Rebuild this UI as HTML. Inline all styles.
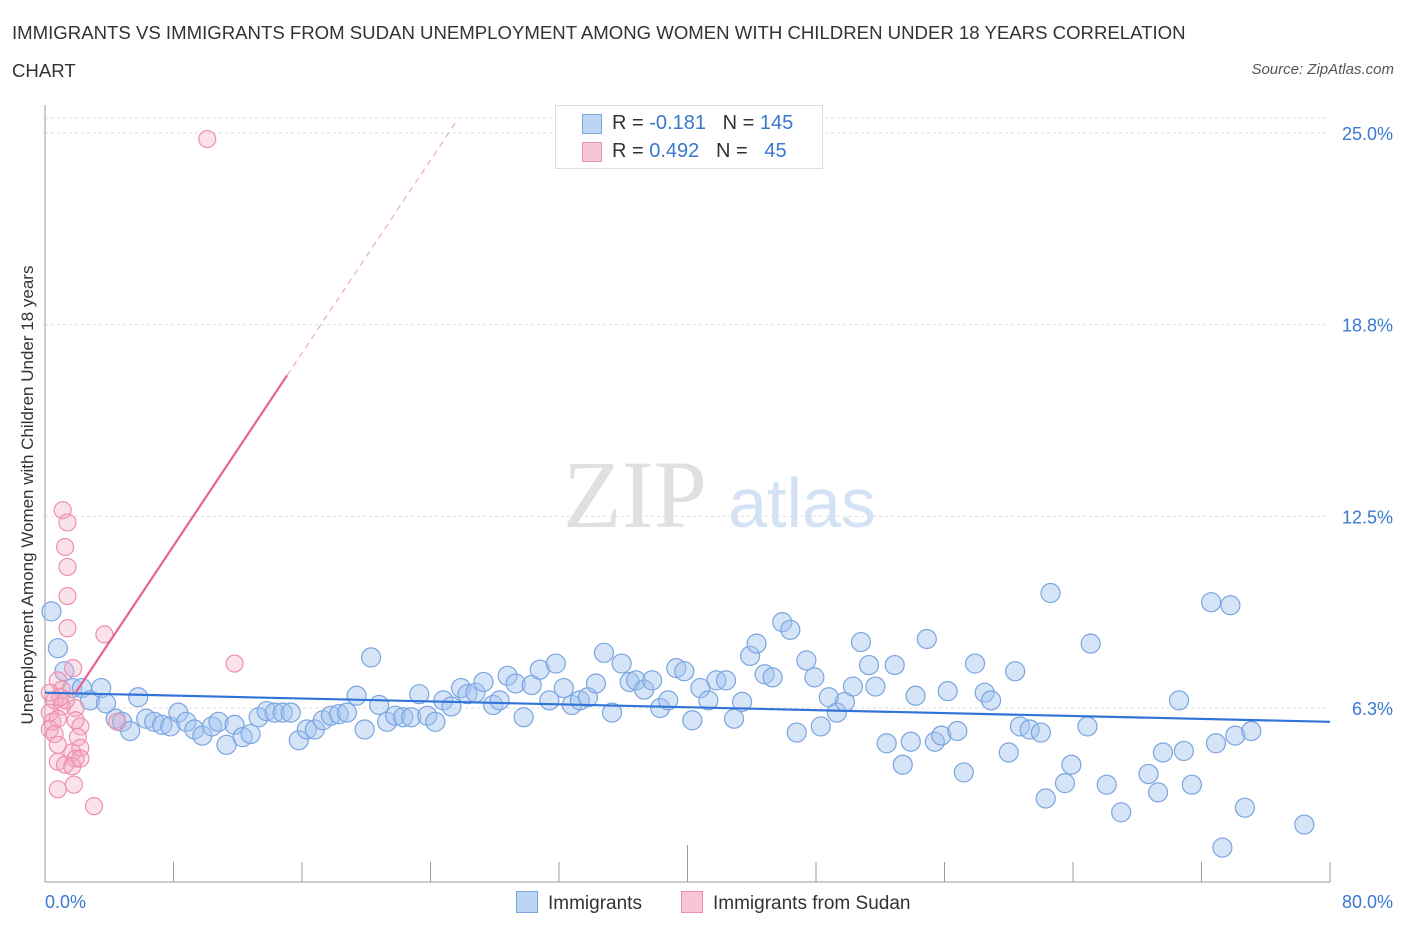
<!DOCTYPE html>
<html><head><meta charset="utf-8"><style>
body{margin:0;background:#fff;font-family:"Liberation Sans",sans-serif;}
#wrap{position:relative;width:1406px;height:930px;overflow:hidden;}
.t{position:absolute;white-space:nowrap;}
</style></head><body>
<div id="wrap">
<div class="t" style="left:12px;top:14px;font-size:18.6px;color:#333;line-height:38px;width:1200px;white-space:normal">IMMIGRANTS VS IMMIGRANTS FROM SUDAN UNEMPLOYMENT AMONG WOMEN WITH CHILDREN UNDER 18 YEARS CORRELATION CHART</div>
<div class="t" style="right:12px;top:61px;font-size:15px;color:#555;font-style:italic">Source: ZipAtlas.com</div>
<svg id="svg" width="1406" height="930" style="position:absolute;left:0;top:0">
<text x="635" y="527" font-family="Liberation Serif,serif" font-size="96" fill="#e0e0e0" text-anchor="middle">ZIP</text>
<text x="802" y="527" font-family="Liberation Sans,sans-serif" font-size="70" fill="#d3e2f4" text-anchor="middle">atlas</text>
<g id="grid"></g><g id="axes"></g><g id="pts"></g><g id="trend"></g>
<text x="33" y="495" transform="rotate(-90 33 495)" font-size="17" fill="#333" text-anchor="middle">Unemployment Among Women with Children Under 18 years</text>
</svg>
<div style="position:absolute;left:555px;top:105px;width:266px;height:62px;border:1px solid #ddd;background:#fff;font-size:20px;">
 <div style="position:absolute;left:26px;top:8px;width:18px;height:18px;background:#bcd5f5;border:1px solid #7aa5e0"></div>
 <div class="t" style="left:56px;top:6px;color:#333">R = <span style="color:#3a78d0">-0.181</span>&nbsp;&nbsp;&nbsp;N = <span style="color:#3a78d0">145</span></div>
 <div style="position:absolute;left:26px;top:36px;width:18px;height:18px;background:#f8c5d5;border:1px solid #ee8fb0"></div>
 <div class="t" style="left:56px;top:34px;color:#333">R = <span style="color:#3a78d0">0.492</span>&nbsp;&nbsp;&nbsp;N = &nbsp;&nbsp;<span style="color:#3a78d0">45</span></div>
</div>
<div style="position:absolute;left:516px;top:891px;font-size:19px;color:#333"><span style="display:inline-block;width:20px;height:20px;background:#bcd5f5;border:1px solid #7aa5e0;vertical-align:-4px;margin-right:10px"></span>Immigrants</div>
<div style="position:absolute;left:681px;top:891px;font-size:19px;color:#333"><span style="display:inline-block;width:20px;height:20px;background:#f8c5d5;border:1px solid #ee8fb0;vertical-align:-4px;margin-right:10px"></span>Immigrants from Sudan</div>
</div>
<script>
const yTicks=[6.25,12.5,18.75,25];
const yTickLabels=["6.3%","12.5%","18.8%","25.0%"];
const xTickLabels=["0.0%","80.0%"];
const blueX=[0.4,0.8,1.2,1.7,2.3,2.8,3.5,3.8,4.4,4.8,5.3,5.8,6.3,6.8,7.3,7.8,8.3,8.8,9.3,9.8,10.4,10.8,11.3,11.8,12.3,12.8,13.3,13.8,14.3,14.8,15.3,15.8,16.3,16.8,17.3,17.8,18.3,18.8,19.4,19.9,20.3,20.8,21.3,21.8,22.3,22.8,23.3,23.8,24.3,24.8,25.3,25.9,26.3,26.8,27.3,27.9,28.3,28.8,29.3,29.8,30.3,30.8,31.4,31.8,32.3,32.8,33.3,33.8,34.3,34.8,35.3,35.9,36.4,36.8,37.3,37.8,38.3,38.8,39.3,39.8,40.3,40.8,41.3,41.8,42.4,42.9,43.4,43.9,44.3,44.8,45.3,45.9,46.4,46.8,47.4,47.9,48.3,48.8,49.3,49.8,50.3,50.8,51.3,51.7,52.4,52.9,53.4,53.9,54.2,54.9,55.4,55.8,56.2,56.8,57.2,57.9,58.5,58.9,60.0,60.4,60.7,61.3,62.0,62.3,62.6,63.5,63.9,64.9,65.1,66.1,67.0,68.7,69.3,69.6,70.6,70.9,71.4,72.6,72.9,73.3,73.8,74.1,74.7,75.1,78.4];
const blueY=[9.4,8.2,7.45,6.9,6.9,6.5,6.9,6.4,5.9,5.8,5.5,6.6,5.9,5.8,5.7,5.65,6.1,5.8,5.55,5.35,5.65,5.8,5.05,5.7,5.3,5.4,5.95,6.15,6.1,6.1,6.1,5.2,5.55,5.55,5.85,6.0,6.05,6.1,6.65,5.55,7.9,6.35,5.8,6.0,5.95,5.95,6.7,6.0,5.8,6.5,6.3,6.9,6.7,6.75,7.1,6.35,6.5,7.3,7.05,5.95,7.0,7.5,6.5,7.7,6.9,6.35,6.5,6.6,7.05,8.05,6.1,7.7,7.1,7.15,6.85,7.15,6.25,6.5,7.55,7.45,5.85,6.9,6.5,7.15,7.15,5.9,6.45,7.95,8.35,7.35,7.25,9.05,8.8,5.45,7.8,7.25,5.65,6.6,6.1,6.45,6.95,8.4,7.65,6.95,5.1,7.65,4.4,5.15,6.65,8.5,5.15,5.35,6.8,5.5,4.15,7.7,6.75,6.5,4.8,7.45,5.65,5.55,5.45,3.3,10.0,3.8,4.4,5.65,8.35,3.75,2.85,4.1,3.5,4.8,6.5,4.85,3.75,9.7,5.1,1.7,9.6,5.35,3.0,5.5,2.45];
const pinkX=[10.1,1.1,1.4,1.25,1.4,1.4,1.4,3.7,11.8,1.75,0.8,1.05,0.3,0.6,1.05,0.3,1.9,0.45,0.8,1.9,0.3,2.2,0.6,2.05,4.5,0.8,1.7,2.2,1.9,0.8,1.25,1.7,2.2,0.8,1.8,3.05,1.3,0.95];
const pinkY=[24.8,12.7,12.3,11.5,10.85,9.9,8.85,8.65,7.7,7.55,7.15,6.85,6.75,6.5,6.3,6.1,6.25,5.8,5.9,5.85,5.55,5.65,5.4,5.3,5.8,5.05,4.8,4.95,4.6,4.5,4.4,4.35,4.6,3.6,3.75,3.05,6.5,6.6];
const blueTrend=[6.75,5.8];
const pinkTrend=[5.25,0.786];
const NS="http://www.w3.org/2000/svg";
const X0=45,X1=1330,YB=899.7,YS=30.67;
function sx(v){return X0+(v/80)*(X1-X0);}
function sy(v){return YB-v*YS;}
function mk(tag,attrs,parent){const e=document.createElementNS(NS,tag);for(const k in attrs)e.setAttribute(k,attrs[k]);document.getElementById(parent).appendChild(e);return e;}
yTicks.forEach((t,i)=>{
 const l=mk('line',{x1:X0,x2:X1,y1:sy(t),y2:sy(t),stroke:'#ddd','stroke-dasharray':'3,3'},'grid');
 
 
 const tx=mk('text',{x:1393,y:sy(t)+7,'font-size':18,fill:'#3a78d0','text-anchor':'end'},'grid');
 tx.textContent=yTickLabels[i];
 
 
});
const tg=mk('line',{x1:X0,x2:X1,y1:118,y2:118,stroke:'#ddd','stroke-dasharray':'3,3'},'grid');


const ya=mk('line',{x1:X0,x2:X0,y1:105,y2:882,stroke:'#999'},'axes');


const xa=mk('line',{x1:X0,x2:X1,y1:882,y2:882,stroke:'#999'},'axes');


for(let i=0;i<=10;i++){
 const v=i*8;
 const tk=mk('line',{x1:sx(v),x2:sx(v),y1:i==5?845:862,y2:882,stroke:'#999'},'axes');
 
 
}
[[0,0,'start',45],[80,1,'end',1393]].forEach(a=>{
 const t=mk('text',{x:a[3],y:908,'font-size':18,fill:'#3a78d0','text-anchor':a[2]},'axes');
 t.textContent=xTickLabels[a[1]];
 
 
});
blueX.forEach((x,i)=>{
 const c=mk('circle',{cx:sx(x),cy:sy(blueY[i]),r:9.5,fill:'rgba(164,196,240,0.45)',stroke:'#7aa5e0','stroke-width':1.2},'pts');
 
 
});
pinkX.forEach((x,i)=>{
 const c=mk('circle',{cx:sx(x),cy:sy(pinkY[i]),r:8.5,fill:'rgba(244,170,195,0.35)',stroke:'#ee8fb0','stroke-width':1.2},'pts');
 
 
});
const bl=mk('line',{x1:sx(0),y1:sy(blueTrend[0]),x2:sx(80),y2:sy(blueTrend[1]),stroke:'#2f74d6','stroke-width':2.2},'trend');


function pf(x){return pinkTrend[0]+pinkTrend[1]*x;}
const ps=mk('line',{x1:sx(1.9),y1:sy(pf(1.9)),x2:sx(15.07),y2:sy(pf(15.07)),stroke:'#e8638f','stroke-width':2.2},'trend');


const pd=mk('line',{x1:sx(15.07),y1:sy(pf(15.07)),x2:sx(25.7),y2:sy(pf(25.7)),stroke:'#eeaabf','stroke-width':1.2,'stroke-dasharray':'6,5'},'trend');


</script>
</body></html>
